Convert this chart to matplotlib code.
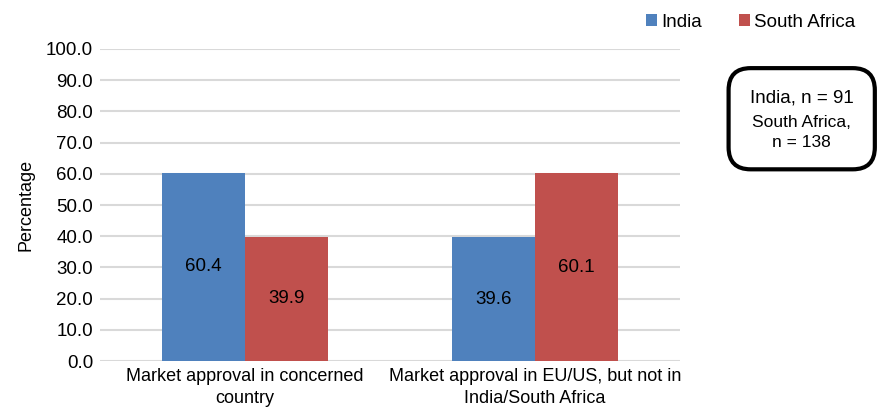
import matplotlib.pyplot as plt
import numpy as np
from matplotlib.patches import FancyBboxPatch

plt.rcParams['font.family'] = ['Liberation Sans', 'DejaVu Sans']

categories = ["Market approval in concerned\ncountry",
              "Market approval in EU/US, but not in\nIndia/South Africa"]
india = [60.4, 39.6]
south_africa = [39.9, 60.1]
yticks = np.arange(0, 101, 10)

fig = plt.figure(figsize=(8.81, 4.08), dpi=100)
ax = fig.add_axes([0.1135, 0.115, 0.6585, 0.765])

x = np.arange(len(categories))
w = 0.286
b1 = ax.bar(x - w / 2, india, w, color='#4F81BD', label='India', zorder=3)
b2 = ax.bar(x + w / 2, south_africa, w, color='#C0504D', label='South Africa', zorder=3)

for bars in (b1, b2):
    for bar in bars:
        h = bar.get_height()
        ax.text(bar.get_x() + bar.get_width() / 2, h / 2, f"{h:.1f}",
                ha='center', va='center', fontsize=13.5, zorder=4)

ax.set_xlim(-0.5, 1.5)
ax.set_ylim(0, 100)
ax.set_yticks(yticks)
ax.set_yticklabels([f"{v:.1f}" for v in yticks], fontsize=13.5)
ax.set_xticks(x)
ax.set_xticklabels(categories, fontsize=13, linespacing=1.35)
ax.tick_params(length=0, pad=5)
ax.tick_params(axis='x', pad=5)
ax.yaxis.grid(True, color='#d9d9d9', linewidth=1.5, zorder=0)
for s in ax.spines.values():
    s.set_visible(False)
ax.set_ylabel('Percentage', fontsize=13, labelpad=8)

fig.legend(handles=[b1, b2], loc='center', bbox_to_anchor=(0.852, 0.945),
           ncol=2, frameon=False, fontsize=13.5, handlelength=0.6, handleheight=0.6,
           handletextpad=0.2, columnspacing=2.0)

box = FancyBboxPatch((0.827, 0.585), 0.166, 0.248, transform=fig.transFigure,
                     boxstyle='round,pad=0,rounding_size=0.025',
                     facecolor='white', edgecolor='black', linewidth=3,
                     mutation_aspect=2.16)
fig.patches.append(box)
fig.text(0.91, 0.76, 'India, n = 91', ha='center', va='center', fontsize=13.5)
fig.text(0.91, 0.675, 'South Africa,\nn = 138', ha='center', va='center',
         fontsize=12.5, linespacing=1.45)

fig.savefig('out.png', dpi=100)
